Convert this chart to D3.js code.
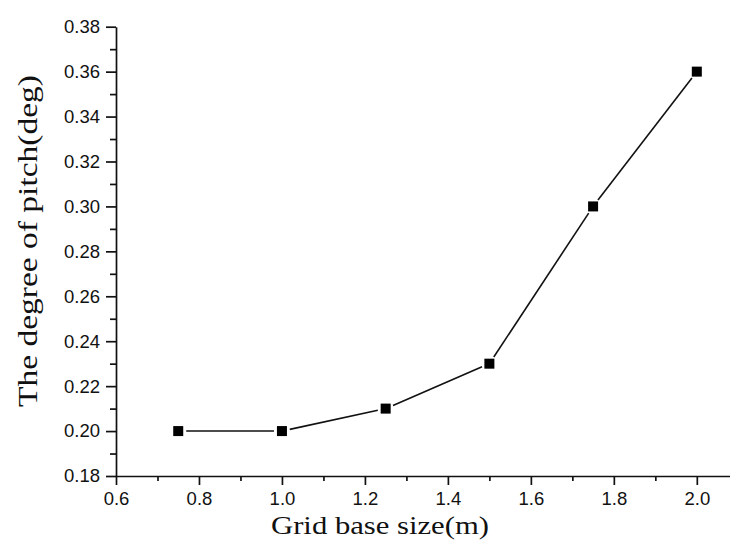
<!DOCTYPE html>
<html>
<head>
<meta charset="utf-8">
<script src="https://cdn.jsdelivr.net/npm/d3@7"></script>
<style>
  body { margin: 0; background: #fff; }
  svg { display: block; }
</style>
</head>
<body>
<script>
const gridSize = [0.75, 1.0, 1.25, 1.5, 1.75, 2.0];
const pitch = [0.2, 0.2, 0.21, 0.23, 0.3, 0.36];
const xTicks = [0.6, 0.8, 1.0, 1.2, 1.4, 1.6, 1.8, 2.0];
const yTicks = [0.18, 0.2, 0.22, 0.24, 0.26, 0.28, 0.3, 0.32, 0.34, 0.36, 0.38];

const w = 730;
const h = 545;

//scales
const xScale = d3.scaleLinear().domain([0.6, 2.08]).range([116, 730]);
const yScale = d3.scaleLinear().domain([0.18, 0.38]).range([476, 26.7]);

const svg = d3.select("body").append("svg").attr("width", w).attr("height", h);

// minor ticks (halfway between majors)
const xMinor = xTicks.map((d) => d + 0.1).filter((d) => d < 2.08);
const yMinor = yTicks.slice(0, -1).map((d) => d + 0.01);

svg
  .append("g")
  .attr("transform", "translate(0," + 476 + ")")
  .call(d3.axisBottom(xScale).tickValues(xMinor).tickSize(5).tickFormat(""))
  .call((g) => g.select(".domain").remove());

svg
  .append("g")
  .attr("transform", "translate(" + 116 + ",0)")
  .call(d3.axisLeft(yScale).tickValues(yMinor).tickSize(6).tickFormat(""))
  .call((g) => g.select(".domain").remove());

const xAxis = d3
  .axisBottom(xScale)
  .tickValues(xTicks)
  .tickSize(9)
  .tickSizeOuter(0)
  .tickPadding(7)
  .tickFormat(d3.format(".1f"));

svg
  .append("g")
  .attr("class", "axis")
  .attr("transform", "translate(0," + 476 + ")")
  .call(xAxis);

const yAxis = d3
  .axisLeft(yScale)
  .tickValues(yTicks)
  .tickSize(10)
  .tickSizeOuter(0)
  .tickPadding(6)
  .tickFormat(d3.format(".2f"));

svg
  .append("g")
  .attr("class", "axis")
  .attr("transform", "translate(" + 116 + ",0)")
  .call(yAxis);

svg.selectAll("g line, g path").attr("stroke", "#111").attr("stroke-width", 1.7);
svg
  .selectAll(".axis text")
  .attr("font-family", "Liberation Sans, Arial, sans-serif")
  .attr("font-size", 18.5)
  .attr("fill", "#111");

// line segments with a small gap at each marker
const pts = gridSize.map((d, i) => [xScale(d), yScale(pitch[i])]);
const gap = 8;
const segs = d3.pairs(pts).map(([a, b]) => {
  const dx = b[0] - a[0];
  const dy = b[1] - a[1];
  const len = Math.hypot(dx, dy);
  return [
    a[0] + (dx / len) * gap,
    a[1] + (dy / len) * gap,
    b[0] - (dx / len) * gap,
    b[1] - (dy / len) * gap,
  ];
});

svg
  .selectAll("line.seg")
  .data(segs)
  .enter()
  .append("line")
  .attr("class", "seg")
  .attr("x1", (d) => d[0])
  .attr("y1", (d) => d[1])
  .attr("x2", (d) => d[2])
  .attr("y2", (d) => d[3])
  .attr("stroke", "#111")
  .attr("stroke-width", 1.6);

const m = 10;
svg
  .selectAll("rect.pt")
  .data(gridSize)
  .enter()
  .append("rect")
  .attr("class", "pt")
  .attr("x", (d) => xScale(d) - m / 2)
  .attr("y", (d, i) => yScale(pitch[i]) - m / 2)
  .attr("width", m)
  .attr("height", m)
  .attr("fill", "#000");

// axis titles
svg
  .append("text")
  .attr("x", 380)
  .attr("y", 534)
  .attr("text-anchor", "middle")
  .attr("font-family", "Liberation Serif, Times New Roman, serif")
  .attr("font-size", 25)
  .attr("textLength", 218)
  .attr("lengthAdjust", "spacingAndGlyphs")
  .attr("fill", "#111")
  .text("Grid base size(m)");

svg
  .append("text")
  .attr("transform", "translate(37,241) rotate(-90)")
  .attr("text-anchor", "middle")
  .attr("font-family", "Liberation Serif, Times New Roman, serif")
  .attr("font-size", 27)
  .attr("textLength", 332)
  .attr("lengthAdjust", "spacingAndGlyphs")
  .attr("fill", "#111")
  .text("The degree of pitch(deg)");
</script>
</body>
</html>
